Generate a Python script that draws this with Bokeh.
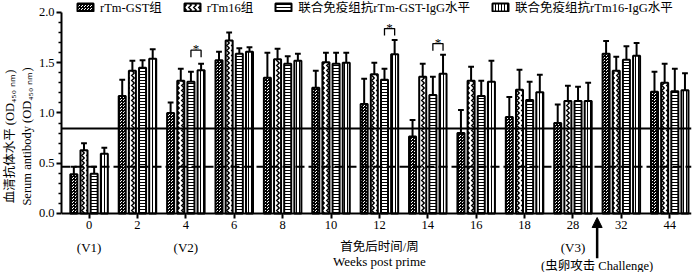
from bokeh.plotting import figure
from bokeh.models import (Range1d, FixedTicker, Span, Label, Arrow, NormalHead, Legend,
                          LegendItem, ColumnDataSource, NumeralTickFormatter)
from bokeh.embed import file_html
from bokeh.resources import INLINE
from bokeh.core.properties import value

# ---------------- data ----------------
weeks = ["0", "2", "4", "6", "8", "10", "12", "14", "16", "18", "28", "32", "44"]
series_names = ["rTm-GST组", "rTm16组", "联合免疫组抗rTm-GST-IgG水平", "联合免疫组抗rTm16-IgG水平"]

gst_mean = [0.39, 1.17, 1.00, 1.525, 1.35, 1.25, 1.09, 0.765, 0.80, 0.96, 0.90, 1.59, 1.21]
gst_sd = [0.075, 0.16, 0.105, 0.085, 0.25, 0.17, 0.25, 0.165, 0.23, 0.20, 0.185, 0.125, 0.20]

tm16_mean = [0.63, 1.42, 1.32, 1.72, 1.535, 1.505, 1.385, 1.36, 1.32, 1.23, 1.12, 1.42, 1.30]
tm16_sd = [0.07, 0.10, 0.12, 0.08, 0.105, 0.095, 0.115, 0.13, 0.14, 0.20, 0.15, 0.14, 0.19]

combo_gst_mean = [0.395, 1.45, 1.31, 1.59, 1.49, 1.49, 1.33, 1.18, 1.17, 1.13, 1.12, 1.53, 1.215]
combo_gst_sd = [0.07, 0.075, 0.10, 0.055, 0.075, 0.11, 0.11, 0.18, 0.15, 0.18, 0.14, 0.135, 0.225]

combo_16_mean = [0.595, 1.54, 1.425, 1.61, 1.52, 1.50, 1.585, 1.39, 1.31, 1.205, 1.12, 1.57, 1.225]
combo_16_sd = [0.06, 0.095, 0.065, 0.045, 0.07, 0.10, 0.14, 0.19, 0.21, 0.175, 0.18, 0.125, 0.17]

# reference levels (cut-off lines)
solid_level = 0.845
dashed_level = 0.465

# significance marks: week label, bracket height
sig_weeks = ["4", "12", "14"]
sig_heights = [1.625, 1.84, 1.69]

# y axis ticks
y_major = [0.0, 0.5, 1.0, 1.5, 2.0]
y_minor = [0.1, 0.2, 0.3, 0.4, 0.6, 0.7, 0.8, 0.9, 1.1, 1.2, 1.3, 1.4, 1.6, 1.7, 1.8, 1.9]

# visit annotations under the axis
visit_weeks = ["0", "4", "28"]
visit_labels = ["(V1)", "(V2)", "(V3)"]
challenge_after = "28"
challenge_text = "(虫卵攻击 Challenge)"

x_title_cn = "首免后时间/周"
x_title_en = "Weeks post prime"
y_title = "血清抗体水平 (OD₄₅₀ ₙₘ)\nSerum antibody (OD₄₅₀ ₙₘ)"

# ---------------- figure ----------------
SERIF = "Liberation Serif, Noto Sans CJK SC"

p = figure(width=692, height=272, x_range=Range1d(-0.57, 12.45), y_range=Range1d(-0.587, 2.119),
           output_backend="svg", toolbar_location=None,
           min_border_left=58, min_border_right=1, min_border_top=0, min_border_bottom=0)
p.outline_line_color = None
p.grid.visible = False

idx = list(range(len(weeks)))
pitch = 0.21
offsets = [-1.5 * pitch, -0.5 * pitch, 0.5 * pitch, 1.5 * pitch]
bar_w = 0.145
cap = 0.06

styles = [
    dict(hatch_pattern="criss_cross", hatch_scale=3, hatch_weight=1),
    dict(hatch_pattern="vertical_wave", hatch_scale=5, hatch_weight=1.5),
    dict(hatch_pattern="horizontal_line", hatch_scale=3, hatch_weight=1),
    dict(hatch_pattern="vertical_line", hatch_scale=3, hatch_weight=1),
]

all_series = [(gst_mean, gst_sd), (tm16_mean, tm16_sd),
              (combo_gst_mean, combo_gst_sd), (combo_16_mean, combo_16_sd)]

renderers = []
for k, (means, sds) in enumerate(all_series):
    xs = [i + offsets[k] for i in idx]
    src = ColumnDataSource(dict(
        x=xs, top=means, err=[m + s for m, s in zip(means, sds)],
        cl=[x - cap for x in xs], cr=[x + cap for x in xs]))
    r = p.vbar(x="x", top="top", bottom=0, width=bar_w, source=src, fill_color="white",
               line_color="black", line_width=2, hatch_color="black", **styles[k])
    p.segment(x0="x", y0="top", x1="x", y1="err", source=src, line_color="black", line_width=2)
    p.segment(x0="cl", y0="err", x1="cr", y1="err", source=src, line_color="black", line_width=2)
    renderers.append(r)

p.add_layout(Span(location=solid_level, dimension="width", line_color="black", line_width=2))
p.add_layout(Span(location=dashed_level, dimension="width", line_color="black", line_width=2,
                  line_dash="9 4"))

# significance brackets
bx, by, sx, sy = [], [], [], []
for w, h in zip(sig_weeks, sig_heights):
    i = weeks.index(w)
    x3, x4 = i + offsets[2], i + offsets[3]
    bx.append([x3, x3, x4, x4])
    by.append([h - 0.07, h, h, h - 0.07])
    sx.append((x3 + x4) / 2)
    sy.append(h + 0.015)
p.multi_line(xs=bx, ys=by, line_color="black", line_width=1.3)
p.text(x=sx, y=sy, text=["*"] * len(sx), text_align="center", text_baseline="alphabetic",
       text_font=value("Liberation Serif"), text_font_size="13px", text_color="black")

# axes
p.yaxis.ticker = FixedTicker(ticks=y_major, minor_ticks=y_minor)
p.yaxis.formatter = NumeralTickFormatter(format="0.0")
p.yaxis.bounds = (0, 2)
p.xaxis.ticker = FixedTicker(ticks=idx)
p.xaxis.major_label_overrides = {i: w for i, w in zip(idx, weeks)}
p.xaxis.fixed_location = 0
for ax in (p.xaxis, p.yaxis):
    ax.axis_line_width = 2
    ax.major_tick_line_width = 2
    ax.minor_tick_line_width = 1.5
    ax.major_tick_in = 0
    ax.major_tick_out = 5
    ax.minor_tick_in = 0
    ax.minor_tick_out = 3
    ax.major_label_text_font = SERIF
    ax.major_label_text_font_size = "12.5px"
    ax.major_label_text_color = "black"
    ax.axis_label_text_font = SERIF
    ax.axis_label_text_font_style = "normal"
    ax.axis_label_text_font_size = "12.5px"
    ax.axis_label_text_color = "black"
p.xaxis.major_label_standoff = 3
p.yaxis.major_label_standoff = 2
p.yaxis.axis_label = y_title
p.yaxis.axis_label_standoff = 2

# annotations below the x axis (inside the frame, below y = 0)
for w, t in zip(visit_weeks, visit_labels):
    p.add_layout(Label(x=weeks.index(w), y=-0.335, text=t, text_align="center",
                       text_baseline="middle", text_font=SERIF, text_font_size="13px",
                       text_color="black"))
mid = (p.x_range.start + p.x_range.end) / 2 + 0.06
p.add_layout(Label(x=mid, y=-0.335, text=x_title_cn, text_align="center", text_baseline="middle",
                   text_font=SERIF, text_font_size="12.5px", text_color="black"))
p.add_layout(Label(x=mid, y=-0.475, text=x_title_en, text_align="center", text_baseline="middle",
                   text_font=SERIF, text_font_size="13px", text_color="black"))
cx = weeks.index(challenge_after) + 0.5
p.add_layout(Arrow(x_start=cx, y_start=-0.445, x_end=cx, y_end=-0.04, line_width=2.5,
                   line_color="black",
                   end=NormalHead(size=10, fill_color="black", line_color="black", line_width=1)))
p.add_layout(Label(x=cx, y=-0.52, text=challenge_text, text_align="center", text_baseline="middle",
                   text_font=SERIF, text_font_size="12.5px", text_color="black"))

legend = Legend(items=[LegendItem(label=n, renderers=[r]) for n, r in zip(series_names, renderers)],
                orientation="horizontal", location=(14, 256), border_line_color=None,
                background_fill_alpha=0, padding=0, margin=0, spacing=20,
                glyph_width=20, glyph_height=10, label_standoff=5, label_height=10,
                label_text_font=SERIF, label_text_font_size="12.5px",
                label_text_color="black", label_text_baseline="middle")
p.add_layout(legend)

open("out.html", "w").write(file_html(p, INLINE))
